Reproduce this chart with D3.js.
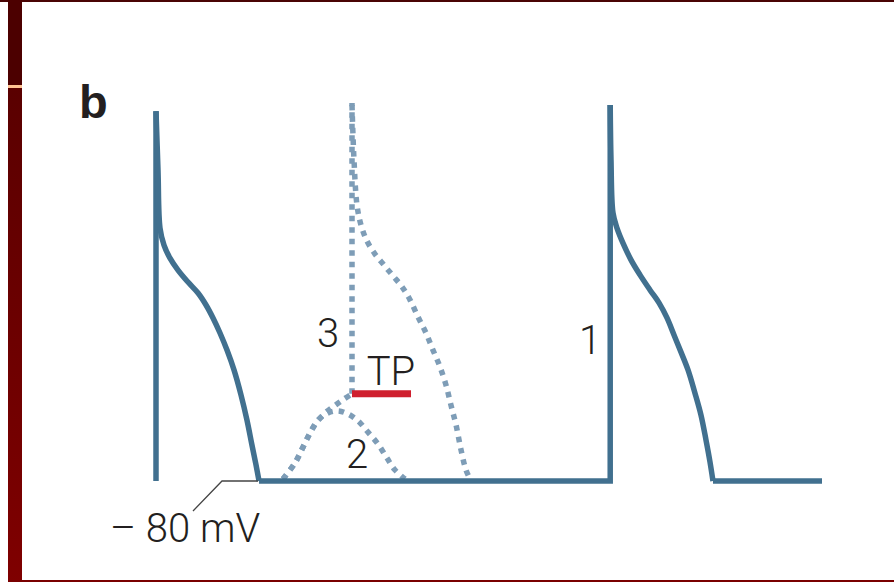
<!DOCTYPE html>
<html>
<head>
<meta charset="utf-8">
<script src="https://cdn.jsdelivr.net/npm/d3@7"></script>
<style>
  html, body { margin: 0; padding: 0; background: #fff; }
  svg { display: block; }
  .lbl { font-family: Roboto, "Noto Sans", sans-serif; font-weight: 300; fill: #231f20; }
</style>
</head>
<body>
<svg id="chart" width="894" height="582"></svg>
<script>
// Time in ms, membrane potential in mV.
// Normal action potentials (solid trace)
const upstroke1 = [[0, -80], [0, 28.2]];
const repol1 = [[0, 28.2], [3, 11], [6, -6], [12, -11], [21, -14.8], [33, -18.3], [48, -21.8], [63.1, -25],
  [75.1, -28.5], [85.6, -32.3], [96.1, -36.7], [106.6, -41.7], [117.1, -47.5], [127.6, -54.8],
  [136.6, -62.2], [144.1, -69.5], [150.2, -75.3], [154.7, -80]];
const rest1 = [[154.7, -80], [682, -80], [682, 30]];
const repol2 = [[682, 30], [683.2, 13.9], [686.2, -1.6], [692.2, -6], [701.2, -10.4], [713.2, -15.3],
  [726.7, -19.7], [741.7, -24.1], [755.3, -27.9], [767.3, -32.3], [777.8, -37.3], [788.3, -42.3],
  [798.8, -47.5], [809.3, -54.3], [818.3, -60.7], [825.8, -68], [831.8, -74.4], [836.3, -80]];
const rest2 = [[836.3, -80], [1000, -80]];

// Afterdepolarizations (dotted traces)
const riseToThreshold = [[190.7, -79.4], [208.7, -74.7], [220.7, -70.1], [231.2, -66], [241.7, -62.7],
  [253.8, -60.1], [265.8, -58.3], [280.8, -56.2], [294.3, -54.5]];
const triggeredUpstroke = [[294.3, -54.5], [294.3, 30.6]];
const triggeredRepol = [[294.3, 30], [297.3, 13.9], [301.8, 0.7], [307.8, -5.1], [316.8, -9.8], [328.8, -13.6],
  [342.3, -16.8], [355.9, -20], [369.4, -23.2], [381.4, -27], [393.4, -32], [405.4, -36.7], [415.9, -41.7],
  [426.4, -46.6], [435.4, -51.9], [442.9, -57.8], [450.5, -63.6], [458, -70.9], [465.5, -76.8], [473, -80]];
const subthresholdHump = [[190.7, -79.4], [208.7, -74.7], [220.7, -70.1], [231.2, -66], [243.2, -62.2],
  [258.3, -60.1], [273.3, -59.5], [288.3, -60.4], [303.3, -62.4], [318.3, -65.7], [333.3, -69.2],
  [346.8, -73.3], [358.9, -76.8], [373.9, -79.4]];

// Threshold (take-off potential) segment
const tpStart = 294.3, tpEnd = 382.9, tpLevel = -54.5;
const restingLevel = -80;

const svg = d3.select("#chart");
const x = d3.scaleLinear().domain([0, 1000]).range([156, 822]);
const y = d3.scaleLinear().domain([-80, 30]).range([481, 105]);

// Frame decoration
const defs = svg.append("defs");
const grad = defs.append("linearGradient").attr("id", "barGrad")
  .attr("x1", 0).attr("y1", 0).attr("x2", 0).attr("y2", 1);
grad.append("stop").attr("offset", "0%").attr("stop-color", "#5a0000");
grad.append("stop").attr("offset", "100%").attr("stop-color", "#7f0000");

svg.append("rect").attr("x", 0).attr("y", 0).attr("width", 894).attr("height", 2).attr("fill", "#4a0404");
svg.append("rect").attr("x", 8).attr("y", 0).attr("width", 14).attr("height", 85).attr("fill", "#4c0000");
svg.append("rect").attr("x", 8).attr("y", 85).attr("width", 14).attr("height", 3).attr("fill", "#ffc392");
svg.append("rect").attr("x", 8).attr("y", 88).attr("width", 14).attr("height", 494).attr("fill", "url(#barGrad)");
svg.append("rect").attr("x", 8).attr("y", 580).attr("width", 886).attr("height", 2).attr("fill", "#7a0000");

// Panel letter
svg.append("text").attr("x", 79).attr("y", 118)
  .attr("font-family", "'Liberation Sans', Arial, sans-serif").attr("font-weight", "bold")
  .attr("font-size", 47).attr("fill", "#231f20").text("b");

const linearLine = d3.line().x(d => x(d[0])).y(d => y(d[1]));
const smoothLine = d3.line().x(d => x(d[0])).y(d => y(d[1])).curve(d3.curveCatmullRom.alpha(0.5));

const solid = "#41708f";
const dotted = "#7e9db7";

// Dotted traces
const dotStyle = sel => sel.attr("fill", "none").attr("stroke", dotted)
  .attr("stroke-width", 5.5).attr("stroke-dasharray", "5.5 6");
svg.append("path").datum(subthresholdHump).attr("d", smoothLine).call(dotStyle);
svg.append("path").datum(riseToThreshold).attr("d", smoothLine).call(dotStyle);
svg.append("path").datum(triggeredUpstroke).attr("d", linearLine).call(dotStyle);
svg.append("path").datum(triggeredRepol).attr("d", smoothLine).call(dotStyle);

// Solid trace
const solidStyle = sel => sel.attr("fill", "none").attr("stroke", solid)
  .attr("stroke-width", 5.5).attr("stroke-linejoin", "miter");
svg.append("path").datum(upstroke1).attr("d", linearLine).call(solidStyle);
svg.append("path").datum(repol1).attr("d", smoothLine).call(solidStyle);
svg.append("path").datum(rest1).attr("d", linearLine).call(solidStyle);
svg.append("path").datum(repol2).attr("d", smoothLine).call(solidStyle);
svg.append("path").datum(rest2).attr("d", linearLine).call(solidStyle);

// Take-off potential marker
svg.append("line")
  .attr("x1", x(tpStart)).attr("x2", x(tpEnd))
  .attr("y1", y(tpLevel)).attr("y2", y(tpLevel))
  .attr("stroke", "#cf1f2e").attr("stroke-width", 7);

// Resting potential leader
svg.append("path")
  .attr("d", `M193,511 L222,${y(restingLevel)} L${x(rest1[0][0]) - 1},${y(restingLevel)}`)
  .attr("fill", "none").attr("stroke", "#444").attr("stroke-width", 1.3);

// Labels
const lbl = (t, px, py, anchor) => svg.append("text").attr("class", "lbl")
  .attr("x", px).attr("y", py).attr("font-size", 40).attr("text-anchor", anchor || "middle").text(t);
lbl("3", 328, 347);
lbl("TP", 391, 385);
lbl("2", 357, 468);
lbl("1", 590, 354);
lbl("\u2013 80 mV", 110, 542, "start");
</script>
</body>
</html>
